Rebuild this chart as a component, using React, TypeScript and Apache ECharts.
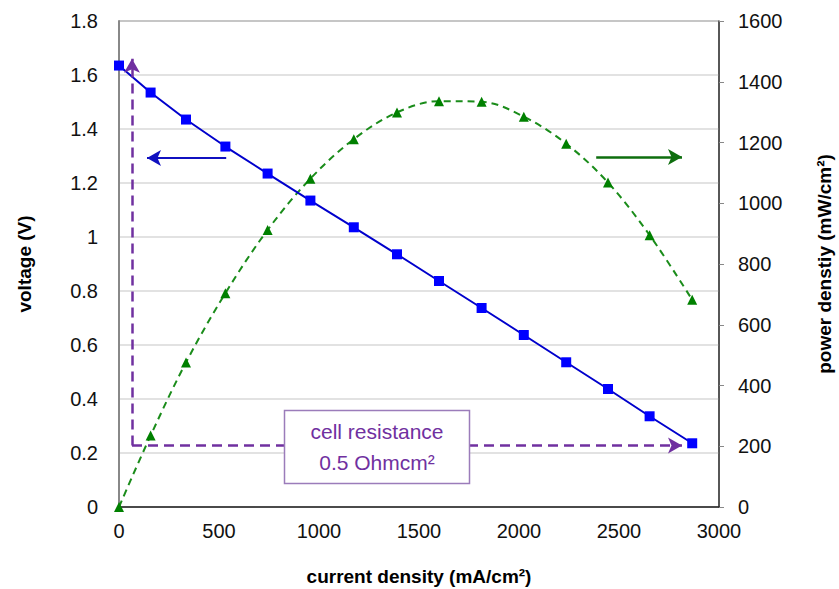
import React, { useEffect, useRef } from "react";
import * as echarts from "echarts";

const currentDensity = [0, 158, 335, 532, 743, 957, 1174, 1390, 1600, 1813, 2024, 2236, 2445, 2653, 2866];
const voltage = [1.635, 1.535, 1.435, 1.335, 1.235, 1.135, 1.036, 0.936, 0.837, 0.737, 0.637, 0.536, 0.437, 0.336, 0.236];
const powerDensity = [0, 235, 476, 704, 912, 1081, 1211, 1299, 1336, 1334, 1285, 1196, 1068, 895, 682];

const xTicks = [0, 3000, 500];
const vTicks = [0, 1.8, 0.2];
const pTicks = [0, 1600, 200];

const FONT = "'Liberation Sans', Arial, sans-serif";
const PURPLE = "#7030A0";

export default function App() {
  const ref = useRef<HTMLDivElement>(null);
  useEffect(() => {
    if (!ref.current) return;
    const chart = echarts.init(ref.current, null, { renderer: "svg", width: 839, height: 589 });
    const vData = currentDensity.map((x, i) => [x, voltage[i]]);
    const pData = currentDensity.map((x, i) => [x, powerDensity[i]]);
    const labelStyle = { fontFamily: FONT, fontSize: 20, color: "#111" };
    const nameStyle = { fontFamily: FONT, fontSize: 19, fontWeight: "bold" as const, color: "#000" };
    const plain = (v: number) => String(v);
    chart.setOption({
      animation: false,
      backgroundColor: "#fff",
      grid: {
        left: 119,
        right: 120,
        top: 21,
        bottom: 82,
        containLabel: false,
        outerBoundsMode: "none",
        show: true,
        borderColor: "#222",
        borderWidth: 1,
      },
      xAxis: {
        type: "value",
        min: xTicks[0],
        max: xTicks[1],
        interval: xTicks[2],
        name: "current density (mA/cm²)",
        nameLocation: "middle",
        nameGap: 60,
        nameTextStyle: nameStyle,
        axisLine: { show: true, lineStyle: { color: "#222", width: 1.5 } },
        axisTick: { show: false },
        splitLine: { show: false },
        axisLabel: { ...labelStyle, margin: 14, formatter: plain },
      },
      yAxis: [
        {
          type: "value",
          min: vTicks[0],
          max: vTicks[1],
          interval: vTicks[2],
          name: "voltage (V)",
          nameLocation: "middle",
          nameGap: 85,
          nameRotate: 90,
          nameTextStyle: nameStyle,
          axisLine: { show: true, lineStyle: { color: "#888", width: 2 } },
          axisTick: { show: false },
          splitLine: { show: true, lineStyle: { color: "#d9d9d9", width: 1.5 } },
          axisLabel: { ...labelStyle, margin: 21, formatter: plain },
        },
        {
          type: "value",
          min: pTicks[0],
          max: pTicks[1],
          interval: pTicks[2],
          name: "power denstiy (mW/cm²)",
          nameLocation: "middle",
          nameGap: 96,
          nameRotate: 90,
          nameTextStyle: nameStyle,
          position: "right",
          axisLine: { show: true, lineStyle: { color: "#444", width: 1.5 } },
          axisTick: { show: true, length: 5, inside: false, lineStyle: { color: "#888" } },
          splitLine: { show: false },
          axisLabel: { ...labelStyle, margin: 19, formatter: plain },
        },
      ],
      series: [
        {
          type: "line",
          name: "voltage",
          data: vData,
          yAxisIndex: 0,
          symbol: "rect",
          symbolSize: 10,
          lineStyle: { color: "#0000CC", width: 2 },
          itemStyle: { color: "#0000FF" },
          z: 3,
          markLine: {
            silent: true,
            symbol: ["none", "arrow"],
            symbolSize: [12, 14],
            label: { show: false },
            data: [
              [
                { coord: [536, 1.293], lineStyle: { color: "#1010C0", width: 2, type: "solid" }, symbol: "none" },
                { coord: [140, 1.293], symbol: "arrow" },
              ],
              [
                { coord: [65, 0.228], lineStyle: { color: PURPLE, width: 2.5, type: [10, 6] }, symbol: "none" },
                { coord: [65, 1.66], symbol: "arrow" },
              ],
              [
                { coord: [65, 0.228], lineStyle: { color: PURPLE, width: 2.5, type: [10, 6] }, symbol: "none" },
                { coord: [2815, 0.228], symbol: "arrow" },
              ],
            ],
          },
        },
        {
          type: "line",
          name: "power",
          data: pData,
          yAxisIndex: 1,
          smooth: 0.35,
          symbol: "triangle",
          symbolSize: 10,
          lineStyle: { color: "#1A8C1A", width: 2, type: [7, 5] },
          itemStyle: { color: "#008000" },
          z: 2,
          markLine: {
            silent: true,
            symbol: ["none", "arrow"],
            symbolSize: [12, 14],
            label: { show: false },
            data: [
              [
                { coord: [2386, 1152], lineStyle: { color: "#0E6E0E", width: 2.5, type: "solid" }, symbol: "none" },
                { coord: [2815, 1152], symbol: "arrow" },
              ],
            ],
          },
        },
      ],
      graphic: [
        {
          type: "rect",
          shape: { x: 284.5, y: 410.5, width: 185, height: 73 },
          style: { fill: "#fff", stroke: "#9B7CBA", lineWidth: 1.5 },
          z: 100,
        },
        {
          type: "text",
          x: 377,
          y: 447,
          style: {
            text: "cell resistance\n0.5 Ohmcm²",
            fill: PURPLE,
            font: `21px ${FONT}`,
            align: "center",
            verticalAlign: "middle",
            lineHeight: 31,
          },
          z: 101,
        },
      ],
    });
    return () => chart.dispose();
  }, []);
  return <div ref={ref} style={{ width: 839, height: 589, position: "absolute", left: 0, top: 0 }} />;
}
